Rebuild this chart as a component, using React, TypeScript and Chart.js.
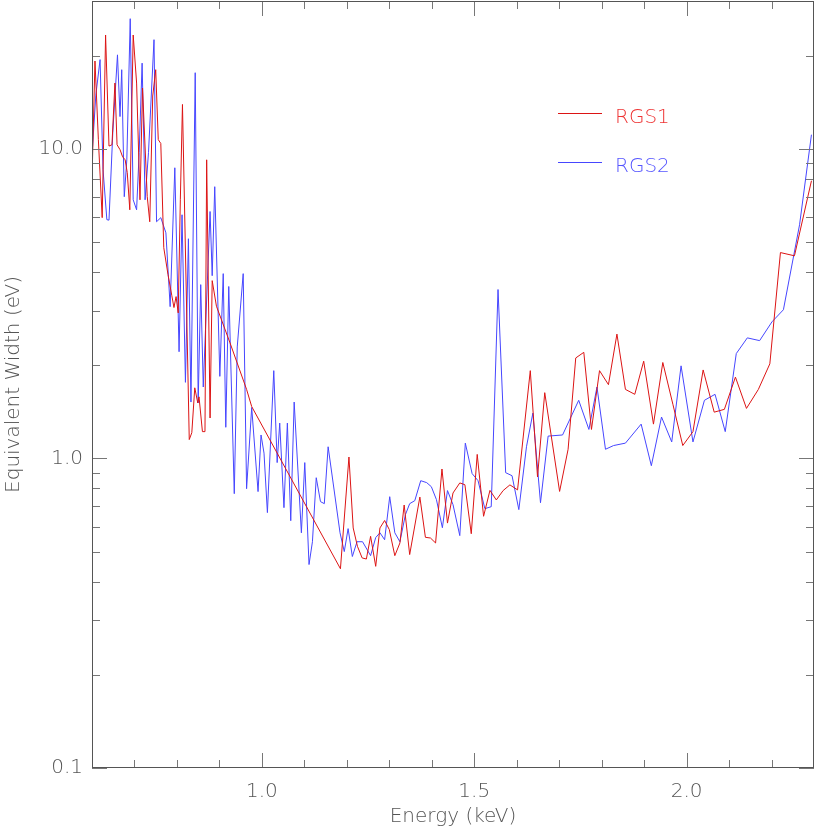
import React, { useEffect, useRef } from "react";
import { Chart, registerables } from "chart.js";
Chart.register(...registerables);

// RGS1 (red)
const rgs1Energy = [
  0.600, 0.607, 0.615, 0.624, 0.632, 0.640, 0.647, 0.654, 0.659, 0.666,
  0.672, 0.678, 0.683, 0.689, 0.697, 0.705, 0.713, 0.719, 0.730, 0.736,
  0.743, 0.750, 0.756, 0.762, 0.769, 0.779, 0.788, 0.793, 0.798, 0.803,
  0.808, 0.813, 0.829, 0.835, 0.842, 0.849, 0.852, 0.860, 0.866, 0.870,
  0.878, 0.883, 0.893, 0.925, 0.964, 0.976, 1.185,
  1.205, 1.215, 1.225, 1.236, 1.246, 1.256, 1.268, 1.278, 1.289, 1.300,
  1.313, 1.325, 1.335, 1.348, 1.372, 1.385, 1.397, 1.409, 1.424, 1.437,
  1.450, 1.466, 1.478, 1.493, 1.507, 1.522, 1.537, 1.552, 1.568, 1.584,
  1.602, 1.632, 1.649, 1.666, 1.701, 1.721, 1.739, 1.758, 1.776, 1.795,
  1.816, 1.836, 1.856, 1.878, 1.899, 1.922, 1.944, 1.968, 1.991, 2.015,
  2.039, 2.065, 2.089, 2.115, 2.141, 2.169, 2.196, 2.221, 2.254, 2.294,
];
const rgs1Width = [
  7.94, 19.2, 10.7, 5.99, 23.3, 10.2, 10.3, 16.3, 10.3, 9.93,
  9.42, 9.21, 8.37, 6.35, 23.3, 16.3, 6.84, 15.7, 7.02, 5.81,
  14.8, 18.0, 10.7, 10.4, 4.79, 3.92, 3.35, 3.07, 3.33, 2.95,
  6.84, 13.9, 1.15, 1.21, 1.69, 1.51, 1.58, 1.22, 1.22, 9.21,
  1.35, 3.75, 3.10, 2.36, 1.67, 1.47, 0.44,
  1.01, 0.596, 0.520, 0.477, 0.473, 0.560, 0.448, 0.596, 0.630, 0.589,
  0.485, 0.533, 0.707, 0.489, 0.750, 0.556, 0.553, 0.533, 0.924, 0.618,
  0.773, 0.833, 0.822, 0.571, 1.03, 0.650, 0.788, 0.734, 0.787, 0.821,
  0.791, 1.92, 0.871, 1.63, 0.782, 1.07, 2.11, 2.20, 1.24, 1.92,
  1.73, 2.52, 1.67, 1.61, 2.06, 1.29, 2.04, 1.49, 1.10, 1.22,
  1.93, 1.41, 1.44, 1.83, 1.45, 1.67, 2.02, 4.62, 4.51, 7.88,
];

// RGS2 (blue)
const rgs2Energy = [
  0.600, 0.609, 0.619, 0.626, 0.635, 0.640, 0.649, 0.660, 0.666, 0.670,
  0.676, 0.682, 0.690, 0.697, 0.705, 0.711, 0.718, 0.725, 0.733, 0.746,
  0.752, 0.762, 0.774, 0.784, 0.795, 0.805, 0.812, 0.820, 0.827, 0.833,
  0.843, 0.850, 0.856, 0.862, 0.878, 0.883, 0.889, 0.901, 0.909, 0.915,
  0.922, 0.935, 0.942, 0.956, 0.964, 0.976, 0.991, 0.998, 1.005, 1.013,
  1.028, 1.036, 1.042, 1.052, 1.060, 1.068, 1.076, 1.093, 1.101, 1.111,
  1.119, 1.128, 1.138, 1.147, 1.156, 1.184, 1.194, 1.203, 1.213, 1.224,
  1.237, 1.256, 1.268, 1.278, 1.289, 1.301, 1.313, 1.325, 1.338, 1.348,
  1.360, 1.374, 1.388, 1.399, 1.411, 1.425, 1.437, 1.450, 1.466, 1.479,
  1.495, 1.509, 1.525, 1.540, 1.556, 1.574, 1.589, 1.605, 1.623, 1.638,
  1.656, 1.674, 1.708, 1.746, 1.770, 1.789, 1.809, 1.828, 1.856, 1.893,
  1.917, 1.941, 1.965, 1.987, 2.015, 2.042, 2.067, 2.091, 2.117, 2.143,
  2.172, 2.201, 2.228, 2.266, 2.294,
];
const rgs2Width = [
  9.5, 14.9, 19.4, 8.55, 5.90, 5.88, 11.3, 20.1, 12.7, 18.0,
  7.00, 9.21, 26.3, 6.84, 6.35, 9.71, 18.9, 6.84, 9.71, 22.5,
  5.81, 5.99, 5.35, 3.09, 8.68, 2.21, 6.12, 1.76, 5.12, 1.52,
  17.6, 1.51, 3.64, 1.70, 6.27, 3.89, 7.54, 1.84, 3.95, 1.26,
  3.59, 0.769, 2.29, 3.95, 0.798, 1.46, 0.781, 1.19, 1.04, 0.668,
  1.92, 0.969, 1.30, 0.693, 1.30, 0.629, 1.52, 0.575, 0.969, 0.454,
  0.538, 0.866, 0.725, 0.714, 1.09, 0.575, 0.500, 0.593, 0.482, 0.538,
  0.538, 0.485, 0.555, 0.575, 0.546, 0.752, 0.575, 0.538, 0.658, 0.714,
  0.730, 0.847, 0.835, 0.810, 0.736, 0.597, 0.787, 0.709, 0.563, 1.12,
  0.893, 0.847, 0.688, 0.698, 3.51, 0.899, 0.879, 0.683, 1.09, 1.40,
  0.719, 1.18, 1.19, 1.54, 1.24, 1.70, 1.07, 1.10, 1.12, 1.29,
  0.947, 1.36, 1.13, 1.99, 1.13, 1.54, 1.61, 1.22, 2.18, 2.45,
  2.40, 2.76, 3.02, 5.68, 11.1,
];

const xTickValues = [1.0, 1.5, 2.0];
const xTickLabels = ["1.0", "1.5", "2.0"];
const xMinorTicks = [0.7, 0.8, 0.9, 1.1, 1.2, 1.3, 1.4, 1.6, 1.7, 1.8, 1.9, 2.1, 2.2];
const yTickValues = [0.1, 1, 10];
const yTickLabels = ["0.1", "1.0", "10.0"];
const yMinorTicks = [0.2, 0.3, 0.4, 0.5, 0.6, 0.7, 0.8, 0.9, 2, 3, 4, 5, 6, 7, 8, 9, 20];

const seriesLabels = ["RGS1", "RGS2"];

const FONT = { family: "'DejaVu Sans', sans-serif", size: 20, weight: 200 as any };
const TEXT = "#555";

const framePlugin = {
  id: "frame",
  afterDatasetsDraw(chart: any) {
    const { ctx, chartArea: a, scales } = chart;
    const xs = scales.x;
    const ys = scales.y;
    ctx.save();
    ctx.lineWidth = 1;
    ctx.strokeStyle = "#777";
    const line = (x1: number, y1: number, x2: number, y2: number) => {
      ctx.beginPath();
      ctx.moveTo(x1, y1);
      ctx.lineTo(x2, y2);
      ctx.stroke();
    };
    const xt = (v: number, len: number) => {
      const px = Math.round(xs.getPixelForValue(v)) + 0.5;
      line(px, a.bottom, px, a.bottom - len);
      line(px, a.top, px, a.top + len);
    };
    const yt = (v: number, len: number) => {
      const py = Math.round(ys.getPixelForValue(v)) + 0.5;
      line(a.left, py, a.left + len, py);
      line(a.right, py, a.right - len, py);
    };
    xTickValues.forEach((v) => xt(v, 15));
    xMinorTicks.forEach((v) => xt(v, 8));
    yTickValues.forEach((v) => yt(v, 15));
    yMinorTicks.forEach((v) => yt(v, 8));
    ctx.strokeStyle = "#555";
    ctx.strokeRect(a.left + 0.5, a.top + 0.5, a.right - a.left - 1, a.bottom - a.top - 1);

    // legend
    const legendText = ["#ee3333", "#5555ff"];
    const ly = [113.5, 162.5];
    chart.data.datasets.forEach((ds: any, i: number) => {
      ctx.strokeStyle = ds.borderColor;
      line(558, ly[i], 602, ly[i]);
      ctx.fillStyle = legendText[i];
      ctx.font = `200 20px ${FONT.family}`;
      ctx.textBaseline = "middle";
      ctx.textAlign = "left";
      ctx.fillText(ds.label, 615, ly[i] + 4);
    });
    ctx.restore();
  },
};

export default function App() {
  const ref = useRef<HTMLCanvasElement | null>(null);
  useEffect(() => {
    document.body.style.margin = "0";
    const canvas = ref.current!;
    const chart = new Chart(canvas, {
      type: "line",
      data: {
        datasets: [
          {
            label: seriesLabels[0],
            data: rgs1Energy.map((x, i) => ({ x, y: rgs1Width[i] })),
            borderColor: "rgb(220,20,20)",
            borderWidth: 1,
            pointRadius: 0,
            tension: 0,
            fill: false,
          },
          {
            label: seriesLabels[1],
            data: rgs2Energy.map((x, i) => ({ x, y: rgs2Width[i] })),
            borderColor: "rgb(70,70,255)",
            borderWidth: 1,
            pointRadius: 0,
            tension: 0,
            fill: false,
          },
        ],
      },
      options: {
        animation: false,
        responsive: false,
        devicePixelRatio: 1,
        layout: { padding: { top: 1, right: 1, left: 0, bottom: 0 } },
        plugins: { legend: { display: false }, tooltip: { enabled: false } },
        scales: {
          x: {
            type: "linear",
            min: 0.6,
            max: 2.3,
            grid: { display: false, drawTicks: false },
            border: { display: false },
            afterBuildTicks: (s: any) => {
              s.ticks = xTickValues.map((v) => ({ value: v }));
            },
            afterFit: (s: any) => {
              s.height = 62;
              s.paddingLeft = 0;
              s.paddingRight = 0;
            },
            ticks: {
              autoSkip: false,
              maxRotation: 0,
              padding: 12,
              color: TEXT,
              font: FONT,
              callback: (_v: any, i: number) => xTickLabels[i],
            },
            title: {
              display: true,
              text: "Energy (keV)",
              color: TEXT,
              font: FONT,
              padding: { top: 0, bottom: 1 },
            },
          },
          y: {
            type: "logarithmic",
            min: 0.1,
            max: 30,
            grid: { display: false, drawTicks: false },
            border: { display: false },
            afterBuildTicks: (s: any) => {
              s.ticks = yTickValues.map((v) => ({ value: v }));
            },
            afterFit: (s: any) => {
              s.width = 92;
              s.paddingTop = 0;
              s.paddingBottom = 0;
            },
            ticks: {
              autoSkip: false,
              padding: 9,
              color: TEXT,
              font: FONT,
              callback: (_v: any, i: number) => yTickLabels[i],
            },
            title: {
              display: true,
              text: "Equivalent Width (eV)",
              color: TEXT,
              font: FONT,
              padding: { top: 2, bottom: 0 },
            },
          },
        },
      },
      plugins: [framePlugin],
    } as any);
    return () => chart.destroy();
  }, []);
  return (
    <div style={{ width: 815, height: 830, position: "relative" }}>
      <canvas ref={ref} width={815} height={830} style={{ display: "block" }} />
    </div>
  );
}
